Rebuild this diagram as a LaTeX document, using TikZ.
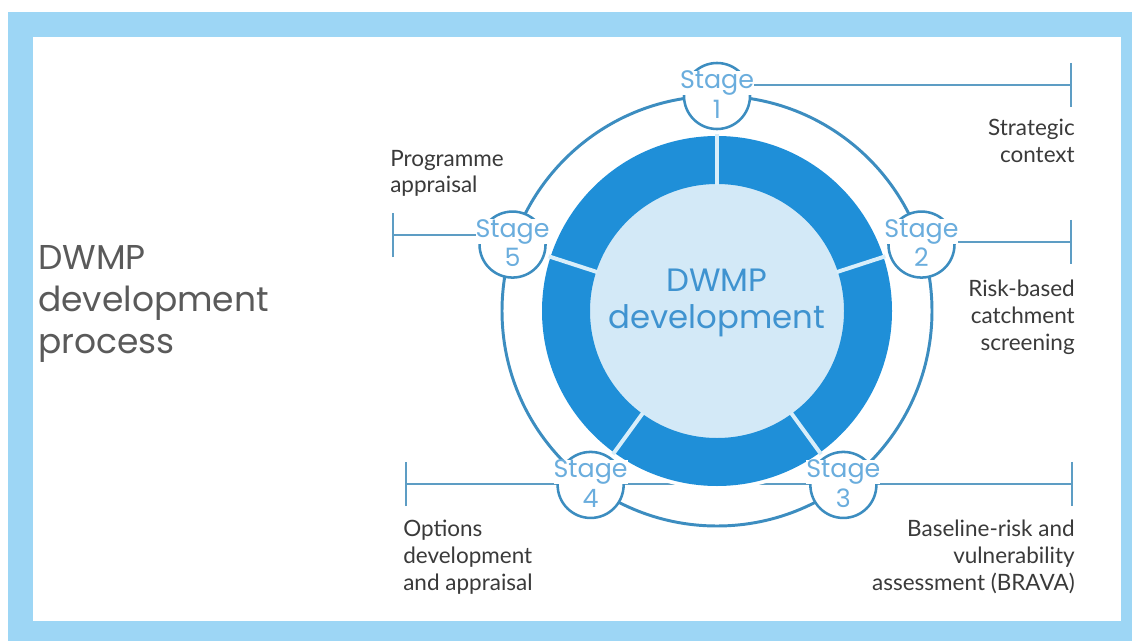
\documentclass[tikz,border=0pt]{standalone}
\usepackage{fontspec}
\setmainfont{Lato}
\newfontfamily\popfont{Poppins}
\usetikzlibrary{positioning}
\usetikzlibrary{calc}
\usetikzlibrary{arrows.meta,backgrounds}

\definecolor{frameblue}{HTML}{9DD6F5}
\definecolor{ringfill}{HTML}{1F8FD8}
\definecolor{centrefill}{HTML}{D3E9F7}
\definecolor{sepcol}{HTML}{D8EEFA}
\definecolor{ringline}{HTML}{3C8DC0}
\definecolor{leadline}{HTML}{5D9DC4}
\definecolor{stagetext}{HTML}{6AADDD}
\definecolor{labgrey}{HTML}{3A3A3A}
\definecolor{titlegrey}{HTML}{5A5A5A}
\definecolor{centretext}{HTML}{3F93D0}

\tikzset{
  outerring/.style={draw=ringline, line width=2.1pt},
  stagec/.style={circle, draw=ringline, line width=1.8pt, fill=white, minimum size=1.65cm, inner sep=0pt},
  stagetxt/.style={font=\popfont\fontsize{18}{20}\selectfont, text=stagetext, inner sep=0pt},
  leader/.style={draw=leadline, line width=1.5pt},
  tickend/.style={{Bar[width=1.1cm]}-},
  lab/.style={font=\fontsize{16}{19}\selectfont, text=labgrey, inner sep=0pt},
  sepline/.style={draw=sepcol, line width=2.8pt},
  centretxt/.style={font=\popfont\fontsize{23}{26}\selectfont, text=centretext, align=center, inner sep=0pt},
  titletxt/.style={font=\popfont\fontsize{24.5}{30}\selectfont, text=titlegrey, align=left, inner sep=0pt}
}

\begin{document}
\begin{tikzpicture}[x=0.025cm,y=0.025cm]
\useasboundingbox (0,0) rectangle (1132,641);
\coordinate (c) at (717,330);

\node[stagec](s1) at ($(c)+(90:215)$){};
\node[stagec](s2) at ($(c)+(18:215)$){};
\node[stagec](s3) at ($(c)+(-54:215)$){};
\node[stagec](s4) at ($(c)+(-126:215)$){};
\node[stagec](s5) at ($(c)+(162:215)$){};

\node[stagetxt, fill=white](s1a) at ($(s1)+(0,13)$){Stage};
\node[stagetxt](s1b) at ($(s1)+(0,-13)$){1};
\node[stagetxt, fill=white](s2a) at ($(s2)+(0,13)$){Stage};
\node[stagetxt](s2b) at ($(s2)+(0,-13)$){2};
\node[stagetxt, fill=white](s3a) at ($(s3)+(0,13)$){Stage};
\node[stagetxt](s3b) at ($(s3)+(0,-13)$){3};
\node[stagetxt, fill=white](s4a) at ($(s4)+(0,13)$){Stage};
\node[stagetxt](s4b) at ($(s4)+(0,-13)$){4};
\node[stagetxt, fill=white](s5a) at ($(s5)+(0,13)$){Stage};
\node[stagetxt](s5b) at ($(s5)+(0,-13)$){5};

\coordinate (e1) at (1072,556);
\coordinate (e2) at (1072,399);
\coordinate (e3) at (1073,157);
\coordinate (e4) at (405,157);
\coordinate (e5) at (392,406);

\node[lab, align=right, below left=0.85cm and -0.075cm of e1](strat){Strategic\\context};
\node[lab, align=right, below left=0.95cm and -0.075cm of e2](risk){Risk-based\\catchment\\screening};
\node[lab, align=right, below left=0.9cm and -0.05cm of e3](brava){Baseline-risk and\\vulnerability\\assessment (BRAVA)};
\node[lab, align=left, below right=0.9cm and -0.05cm of e4](options){Options\\development\\and appraisal};
\node[lab, align=left, above right=0.95cm and -0.05cm of e5](prog){Programme\\appraisal};

\node[titletxt, anchor=north west](title) at (38,396){DWMP\\development\\process};

\begin{pgfonlayer}{background}
\fill[white] (0,0) rectangle (1132,641);
\fill[frameblue] (8,0) rectangle (1132,629);
\fill[white] (33,20) rectangle (1121,604);

\draw[leader, tickend] (e1) -- (e1 -| s1);
\draw[leader, tickend] (e2) -- (e2 -| s2);
\draw[leader, tickend] (e5) -- (e5 -| s5);
\draw[leader, {Bar[width=1.1cm]}-{Bar[width=1.1cm]}] (e4) -- (e3);

\draw[outerring] (c) circle[radius=215];

\draw[white, line width=4pt] (c) circle[radius=176];
\fill[centrefill] (c) circle[radius=128];
\fill[ringfill, even odd rule] (c) circle[radius=175] (c) circle[radius=127];
\draw[sepline] ($(c)+(90:126)$) -- ($(c)+(90:177)$);
\draw[sepline] ($(c)+(18:126)$) -- ($(c)+(18:177)$);
\draw[sepline] ($(c)+(-54:126)$) -- ($(c)+(-54:177)$);
\draw[sepline] ($(c)+(-126:126)$) -- ($(c)+(-126:177)$);
\draw[sepline] ($(c)+(162:126)$) -- ($(c)+(162:177)$);
\end{pgfonlayer}

\node[centretxt](dev) at ($(c)+(0,8)$){DWMP\\development};
\end{tikzpicture}
\end{document}
